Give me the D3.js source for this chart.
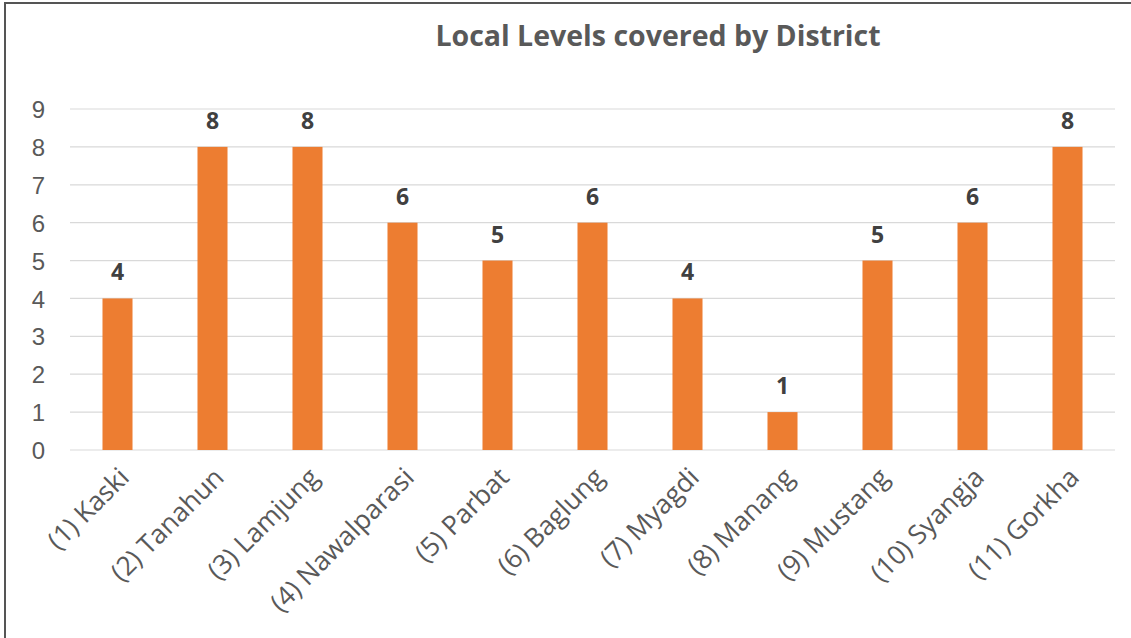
<!DOCTYPE html>
<html>
<head>
<meta charset="utf-8">
<script src="https://cdn.jsdelivr.net/npm/d3@7"></script>
<style>
  html, body { margin:0; padding:0; background:#fff; }
  svg { display:block; font-family:"Open Sans", Lato, sans-serif; }
  .grid line { stroke:#d9d9d9; stroke-width:1.2; }
  .ytick text { fill:#595959; font-size:24px; }
  .xlab { fill:#595959; font-size:26.5px; }
  .val { fill:#404040; font-size:23px; font-weight:700; }
  .title { fill:#595959; font-size:28.5px; font-weight:700; }
</style>
</head>
<body>
<svg id="chart"></svg>
<script>
/* data */
const DISTRICTS = ["(1) Kaski","(2) Tanahun","(3) Lamjung","(4) Nawalparasi","(5) Parbat",
  "(6) Baglung","(7) Myagdi","(8) Manang","(9) Mustang","(10) Syangja","(11) Gorkha"];
const LEVELS = [4, 8, 8, 6, 5, 6, 4, 1, 5, 6, 8];
const Y_TICKS = [0,1,2,3,4,5,6,7,8,9];
const TITLE = "Local Levels covered by District";

const W = 1131, H = 638;
const M = {top:109, right:16, bottom:188, left:70};

const svg = d3.select("#chart").attr("width", W).attr("height", H);

// outer frame (left + top visible in the reference)
svg.append("path").attr("d", `M5,${H} L5,3 L${W},3`)
  .attr("fill","none").attr("stroke","#555").attr("stroke-width",2);

const x = d3.scaleBand().domain(DISTRICTS).range([M.left, W - M.right]).paddingInner(0.684).paddingOuter(0.342);
const y = d3.scaleLinear().domain([0, 9]).range([H - M.bottom, M.top]);

// gridlines
svg.append("g").attr("class","grid").selectAll("line").data(Y_TICKS).enter().append("line")
  .attr("x1", M.left).attr("x2", W - M.right)
  .attr("y1", d => y(d)).attr("y2", d => y(d));

// y axis labels
const yAxis = svg.append("g").attr("class","ytick")
  .attr("transform", `translate(${M.left},0)`)
  .call(d3.axisLeft(y).tickValues(Y_TICKS).tickSize(0).tickPadding(25));
yAxis.select(".domain").remove();
yAxis.selectAll("text").attr("font-family", null).attr("font-size", null).attr("dy","0.36em");

// bars
svg.append("g").selectAll("rect").data(LEVELS).enter().append("rect")
  .attr("x", (d,i) => x(DISTRICTS[i])).attr("width", x.bandwidth())
  .attr("y", d => y(d)).attr("height", d => y(0) - y(d))
  .attr("fill", "#ed7d31");

// value labels
svg.append("g").selectAll("text").data(LEVELS).enter().append("text")
  .attr("class","val").attr("text-anchor","middle")
  .attr("x", (d,i) => x(DISTRICTS[i]) + x.bandwidth()/2)
  .attr("y", d => y(d) - 18)
  .text(d => d);

// rotated category labels
svg.append("g").selectAll("text").data(DISTRICTS).enter().append("text")
  .attr("class","xlab").attr("text-anchor","end")
  .attr("transform", d => `translate(${x(d) + x.bandwidth()/2},${y(0) + 16}) rotate(-45)`)
  .attr("dy","0.7em")
  .text(d => d);

// title
svg.append("text").attr("class","title").attr("text-anchor","middle")
  .attr("x", 658).attr("y", 46).text(TITLE);
</script>
</body>
</html>
